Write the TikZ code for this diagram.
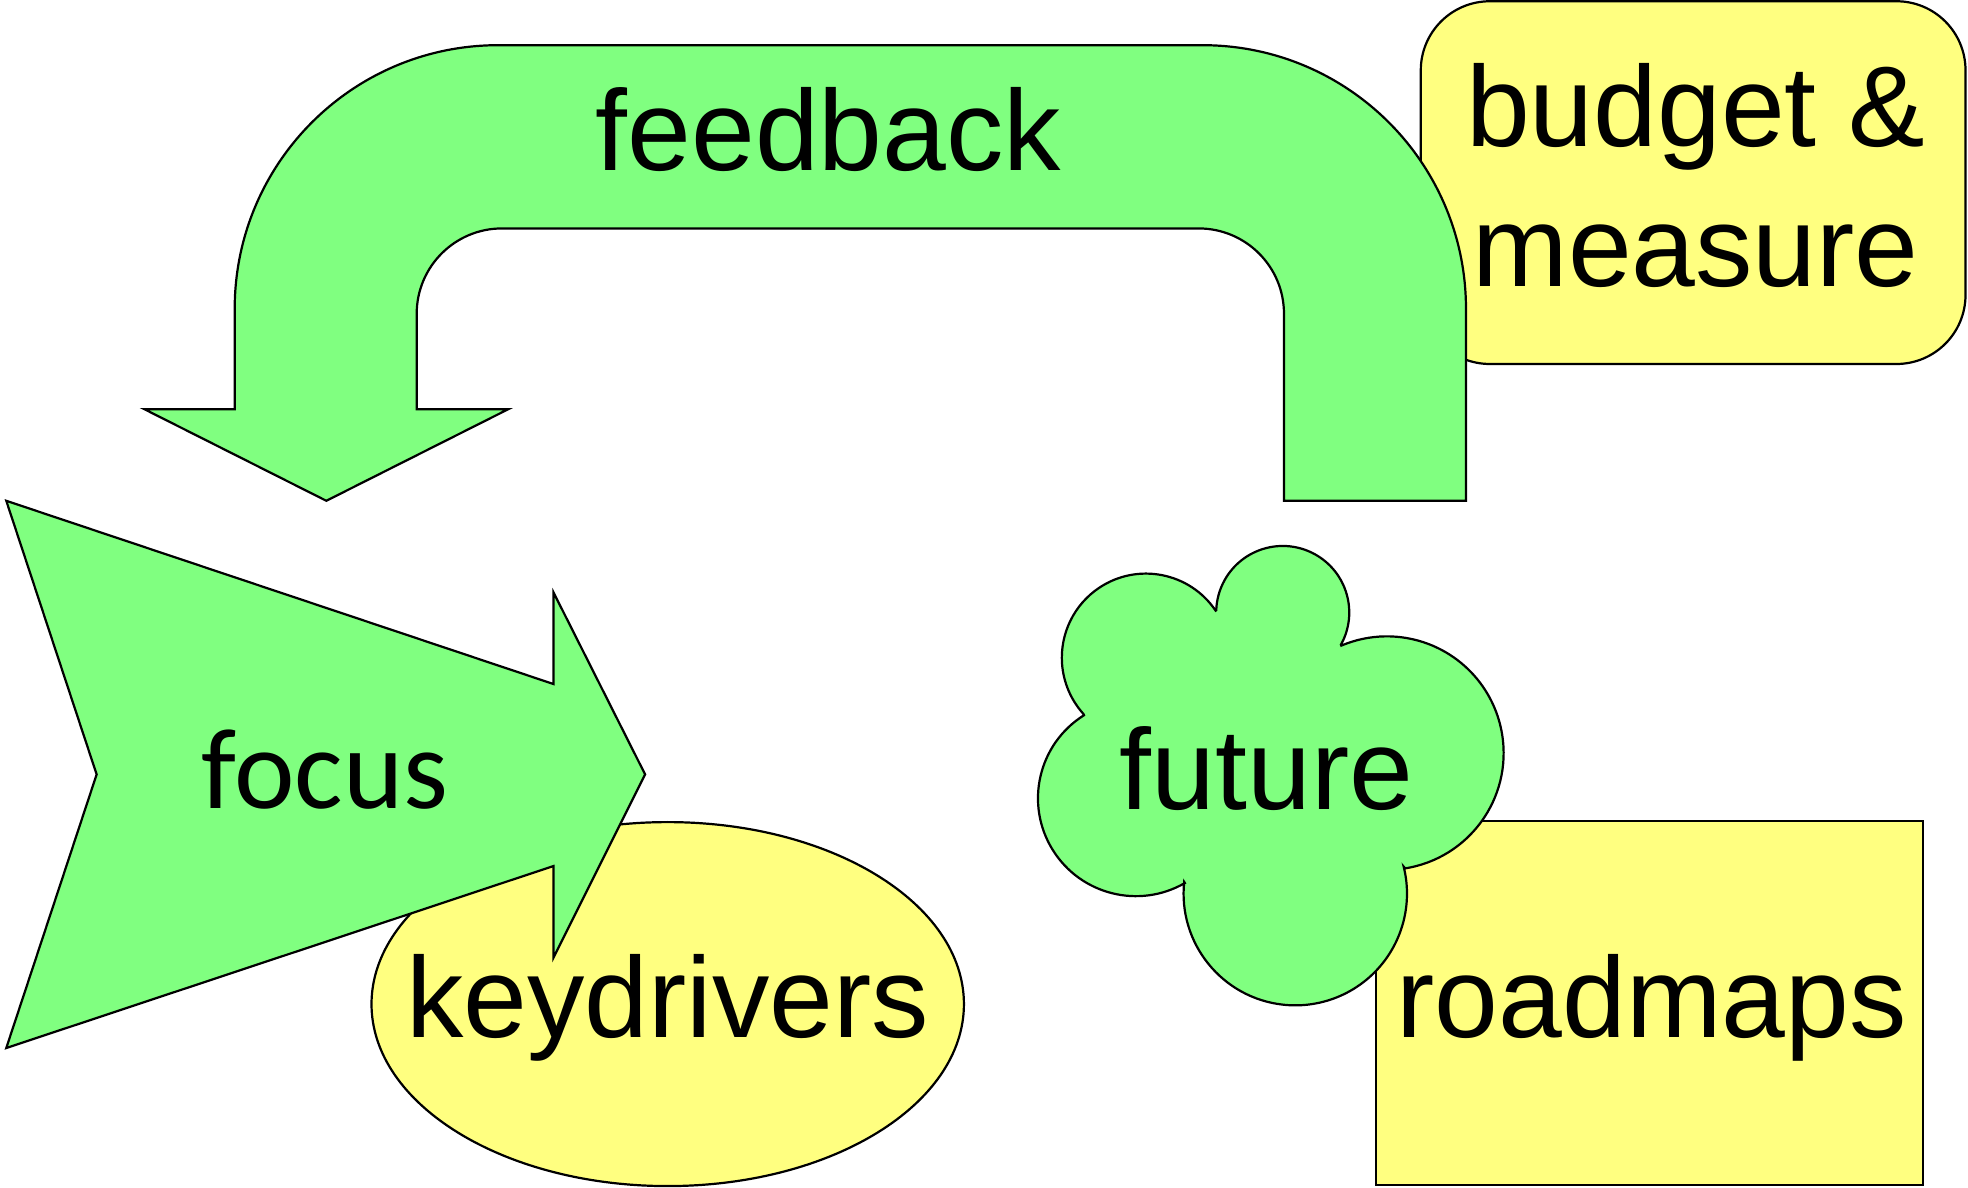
\documentclass[tikz,border=0pt]{standalone}
\usepackage{fontspec}
\setmainfont{Liberation Sans}
\newfontfamily\calibrifont{Carlito}
\usetikzlibrary{calc}
\definecolor{lightgreen}{HTML}{80FF80}
\definecolor{lightyellow}{HTML}{FFFF80}
\tikzset{
	greenshape/.style={draw=black, fill=lightgreen, line width=0.5pt},
	yellowshape/.style={draw=black, fill=lightyellow, line width=0.5pt},
	bigtext/.style={font=\fontsize{26}{31}\selectfont, anchor=base, inner sep=0pt}
}

\begin{document}
\begin{tikzpicture}
			%%%%% START %%%%%
			\useasboundingbox (0,0) rectangle (15.68,9.46);
			
			% yellow boxes behind
			\draw[yellowshape, rounded corners=0.55cm] (11.32,6.56) rectangle (15.66,9.45);
			\draw[yellowshape] (10.96,0.02) rectangle (15.32,2.92);
			\draw[yellowshape] (5.32,1.46) ellipse (2.36 and 1.45);
			
			% u-turn arrow
			\draw[greenshape] (1.87,6.20) -- (1.87,7.00) arc (180:90:2.10) -- (9.58,9.10) arc (90:0:2.10)
				-- (11.68,5.47) -- (10.23,5.47) -- (10.23,6.96) arc (0:90:0.68) -- (4.00,7.64) arc (90:180:0.68)
				-- (3.32,6.20) -- (4.05,6.20) -- (2.60,5.47) -- (1.15,6.20) -- cycle;
			
			% notched arrow
			\draw[greenshape] (0.05,5.47) -- (0.77,3.29) -- (0.05,1.11) -- (4.41,2.56) -- (4.41,1.83)
				-- (5.14,3.29) -- (4.41,4.74) -- (4.41,4.01) -- cycle;
			
			% cloud
			\coordinate (b1) at (9.13,4.22);
			\coordinate (b2) at (10.22,4.58);
			\coordinate (b3) at (11.05,3.46);
			\coordinate (b4) at (10.32,2.34);
			\coordinate (b5) at (9.05,3.10);
			\draw[greenshape] ($(b2)+(-29:0.53)$) arc (-29:178:0.53)
				-- ($(b1)+(34:0.67)$) arc (34:222:0.67)
				-- ($(b5)+(122:0.78)$) arc (122:300:0.78)
				-- ($(b4)+(174:0.89)$) arc (174:374:0.89)
				-- ($(b3)+(-81:0.93)$) arc (-81:113:0.93) -- cycle;
			
			% texts
			\node[bigtext] (feedback) at (6.60,8.10) {feedback};
			\node[bigtext] (budget) at (13.51,8.29) {budget \&};
			\node[bigtext] (measure) at (13.51,7.18) {measure};
			\node[bigtext, font=\calibrifont\fontsize{26}{31}\selectfont] (focus) at (2.59,3.02) {focus};
			\node[bigtext] (future) at (10.09,3.01) {future};
			\node[bigtext] (keydrivers) at (5.32,1.19) {keydrivers};
			\node[bigtext] (roadmaps) at (13.16,1.19) {roadmaps};
			
			%%%%% END %%%%%
\end{tikzpicture}
\end{document}
